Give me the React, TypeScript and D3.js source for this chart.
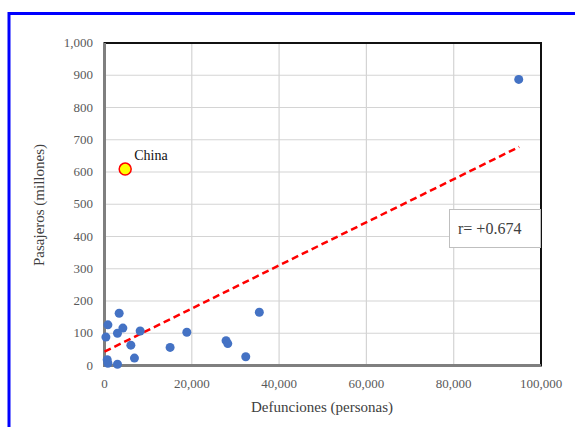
import React, { useEffect, useRef } from 'react';
import * as d3 from 'd3';

// defunciones (personas) vs pasajeros (millones)
const deaths = [94900, 35470, 18860, 15030, 27850, 28240, 32360, 8170, 6860, 6040, 4210, 3360, 2970, 780, 320, 620, 780, 2970];
const passengers = [887, 165, 103, 56, 77, 68, 27, 107, 23, 63, 116, 162, 100, 126, 88, 18, 7, 4];

const chinaDeaths = 4740;
const chinaPassengers = 609;

// dashed trend line, end points
const trendX = [0, 95000];
const trendY = [43, 678];

const xTicks = [0, 20000, 40000, 60000, 80000, 100000];
const yTicks = [0, 100, 200, 300, 400, 500, 600, 700, 800, 900, 1000];

const W = 575;
const H = 427;

export default function App() {
    const ref = useRef<SVGSVGElement>(null);

    useEffect(() => {
        const svg = d3.select(ref.current);
        svg.selectAll('*').remove();

        const left = 104.5, right = 541, top = 43, bottom = 365.5;
        const x = d3.scaleLinear().domain([0, 100000]).range([left, right]);
        const y = d3.scaleLinear().domain([0, 1000]).range([bottom, top]);
        const fmt = d3.format(',');
        const font = "'Liberation Serif', 'Times New Roman', serif";

        svg.append('rect').attr('width', W).attr('height', H).attr('fill', 'white');

        // blue outer frame
        svg.append('rect')
            .attr('x', 9).attr('y', 13.5)
            .attr('width', 700).attr('height', 600)
            .attr('fill', 'none')
            .attr('stroke', '#0000ff')
            .attr('stroke-width', 3);

        // grid
        svg.append('g').selectAll('line.gy')
            .data(yTicks)
            .enter().append('line')
            .attr('x1', left).attr('x2', right)
            .attr('y1', d => y(d)).attr('y2', d => y(d))
            .attr('stroke', '#d4d4d4').attr('stroke-width', 1.2);
        svg.append('g').selectAll('line.gx')
            .data(xTicks)
            .enter().append('line')
            .attr('x1', d => x(d)).attr('x2', d => x(d))
            .attr('y1', top).attr('y2', bottom)
            .attr('stroke', '#d4d4d4').attr('stroke-width', 1.2);

        // plot frame
        svg.append('rect')
            .attr('x', left).attr('y', top)
            .attr('width', right - left).attr('height', bottom - top)
            .attr('fill', 'none')
            .attr('stroke', '#111').attr('stroke-width', 2);
        svg.append('path')
            .attr('d', `M${left},${top} V${bottom} H${right}`)
            .attr('fill', 'none')
            .attr('stroke', '#7f7f7f').attr('stroke-width', 3);

        // tick labels
        svg.append('g').selectAll('text')
            .data(yTicks)
            .enter().append('text')
            .attr('x', 93).attr('y', d => y(d) + 4)
            .attr('text-anchor', 'end')
            .style('font-family', font).attr('font-size', 13)
            .attr('fill', '#595959')
            .text(d => fmt(d));
        svg.append('g').selectAll('text')
            .data(xTicks)
            .enter().append('text')
            .attr('x', d => x(d)).attr('y', 388)
            .attr('text-anchor', 'middle')
            .style('font-family', font).attr('font-size', 13)
            .attr('fill', '#595959')
            .text(d => fmt(d));

        // axis titles
        svg.append('text')
            .attr('x', 322).attr('y', 412)
            .attr('text-anchor', 'middle')
            .style('font-family', font).attr('font-size', 15)
            .attr('fill', '#404040')
            .text('Defunciones (personas)');
        svg.append('text')
            .attr('transform', 'translate(44,205) rotate(-90)')
            .attr('text-anchor', 'middle')
            .style('font-family', font).attr('font-size', 15)
            .attr('fill', '#404040')
            .text('Pasajeros (millones)');

        // trend line
        svg.append('line')
            .attr('x1', x(trendX[0])).attr('y1', y(trendY[0]))
            .attr('x2', x(trendX[1])).attr('y2', y(trendY[1]))
            .attr('stroke', '#ff0000').attr('stroke-width', 2.5)
            .attr('stroke-dasharray', '7,4');

        // points
        svg.append('g').selectAll('circle')
            .data(deaths.map((d, i) => [d, passengers[i]]))
            .enter().append('circle')
            .attr('cx', d => x(d[0])).attr('cy', d => y(d[1]))
            .attr('r', 4.5)
            .attr('fill', '#4472c4');

        svg.append('circle')
            .attr('cx', x(chinaDeaths)).attr('cy', y(chinaPassengers))
            .attr('r', 6)
            .attr('fill', '#ffff00')
            .attr('stroke', '#ff0000').attr('stroke-width', 1.5);
        svg.append('text')
            .attr('x', x(chinaDeaths) + 9).attr('y', y(chinaPassengers) - 9)
            .style('font-family', font).attr('font-size', 14)
            .attr('fill', '#111')
            .text('China');

        // r box
        svg.append('rect')
            .attr('x', 449.5).attr('y', 209.5)
            .attr('width', 91).attr('height', 38)
            .attr('fill', 'white')
            .attr('stroke', '#bfbfbf').attr('stroke-width', 1);
        svg.append('text')
            .attr('x', 458).attr('y', 234)
            .style('font-family', font).attr('font-size', 16)
            .attr('fill', '#404040')
            .text('r= +0.674');
    }, []);

    return (
        <svg ref={ref} width={W} height={H} style={{ position: 'absolute', left: 0, top: 0 }} />
    );
}
